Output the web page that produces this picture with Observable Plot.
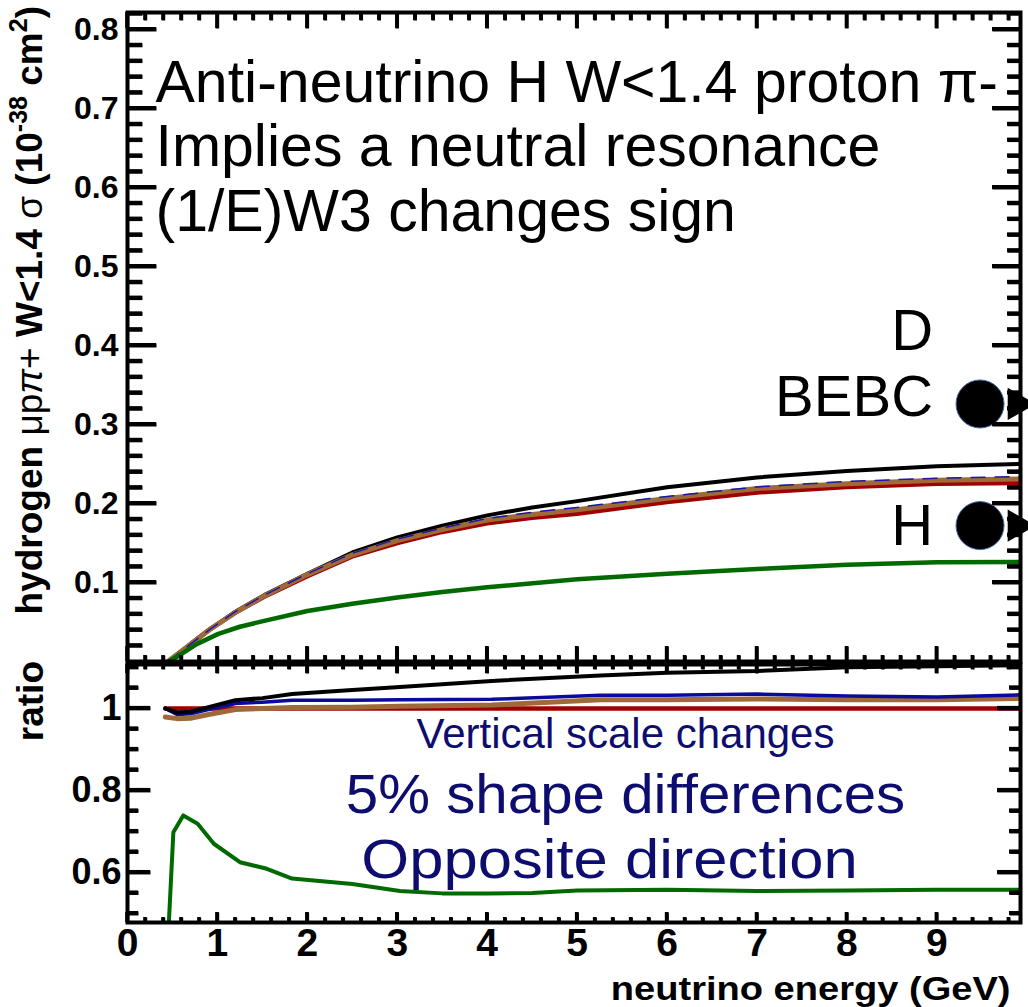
<!DOCTYPE html>
<html><head><meta charset="utf-8">
<script src="https://cdn.jsdelivr.net/npm/d3@7"></script>
<script src="https://cdn.jsdelivr.net/npm/@observablehq/plot@0.6"></script>
<style>
html,body{margin:0;padding:0;background:#fff;}
#wrap{position:relative;width:1028px;height:1007px;overflow:hidden;background:#fff;}
#wrap svg{position:absolute;left:0;overflow:visible;background:transparent;}
</style></head><body><div id="wrap"></div>
<script>
// ---------- data ----------
const energyTop = [0.45, 0.6, 0.77, 0.92, 1.2, 1.52, 2.0, 2.5, 3.0, 3.5, 4.0, 4.5, 5.0, 6.0, 7.0, 8.0, 9.0, 9.92];
const sigmaBlack = [0, 0.013, 0.028, 0.041, 0.063, 0.084, 0.111, 0.138, 0.157, 0.172, 0.185, 0.195, 0.203, 0.2205, 0.233, 0.241, 0.247, 0.250];
const sigmaRed   = [0, 0.013, 0.028, 0.041, 0.062, 0.082, 0.108, 0.133, 0.150, 0.164, 0.175, 0.182, 0.187, 0.202, 0.214, 0.221, 0.225, 0.226];
const sigmaBrown = [0, 0.013, 0.028, 0.041, 0.062, 0.083, 0.110, 0.135, 0.153, 0.167, 0.179, 0.186, 0.192, 0.2065, 0.219, 0.225, 0.2295, 0.231];
const sigmaBlue  = [0, 0.013, 0.028, 0.041, 0.063, 0.084, 0.111, 0.137, 0.155, 0.169, 0.181, 0.189, 0.195, 0.209, 0.221, 0.228, 0.232, 0.234];
const energyGreen = [0.46, 0.55, 0.77, 1.01, 1.25, 1.52, 2.0, 2.5, 3.0, 3.5, 4.0, 5.0, 6.0, 7.0, 8.0, 9.0, 9.92];
const sigmaGreen  = [0, 0.006, 0.022, 0.035, 0.044, 0.0515, 0.064, 0.073, 0.081, 0.088, 0.094, 0.104, 0.111, 0.117, 0.1225, 0.1255, 0.126];

const energyRatio = [0.42, 0.55, 0.7, 0.9, 1.2, 1.5, 1.83, 2.5, 3.03, 4.05, 5.26, 6.0, 7.0, 8.0, 9.0, 9.92];
const ratioBlack = [1.0, 0.99, 0.992, 1.003, 1.02, 1.025, 1.035, 1.045, 1.052, 1.067, 1.08, 1.087, 1.091, 1.1, 1.103, 1.105];
const ratioRed   = [1.0, 1.0, 1.0, 1.0, 1.0, 1.0, 1.0, 1.0, 1.0, 1.0, 1.0, 1.0, 1.0, 1.0, 1.0, 1.0];
const ratioBrown = [0.979, 0.975, 0.976, 0.985, 0.997, 1.0, 1.002, 1.003, 1.005, 1.008, 1.021, 1.021, 1.023, 1.021, 1.021, 1.024];
const ratioBlue  = [1.0, 0.985, 0.987, 0.997, 1.012, 1.015, 1.02, 1.02, 1.021, 1.022, 1.032, 1.032, 1.035, 1.03, 1.028, 1.033];
const energyRatioGreen = [0.46, 0.51, 0.62, 0.78, 0.96, 1.25, 1.55, 1.83, 2.5, 3.03, 3.5, 4.0, 4.5, 5.0, 6.0, 7.0, 8.0, 9.0, 9.92];
const ratioGreen = [0.478, 0.698, 0.739, 0.719, 0.67, 0.625, 0.609, 0.585, 0.572, 0.555, 0.549, 0.549, 0.55, 0.556, 0.558, 0.555, 0.556, 0.558, 0.558];

const bebcNames = ["BEBC", "H"];
const bebcEnergy = [9.48, 9.48];
const bebcSigma = [0.326, 0.172];

const xTicks = [0, 1, 2, 3, 4, 5, 6, 7, 8, 9];
const xTickLabels = ["0", "1", "2", "3", "4", "5", "6", "7", "8", "9"];
const yTopTicks = [0.1, 0.2, 0.3, 0.4, 0.5, 0.6, 0.7, 0.8];
const yTopTickLabels = ["0.1", "0.2", "0.3", "0.4", "0.5", "0.6", "0.7", "0.8"];
const yRatioTicks = [0.6, 0.8, 1];
const yRatioTickLabels = ["0.6", "0.8", "1"];

const titleLines = ["Anti-neutrino H W<1.4 proton π-", "Implies a neutral resonance", "(1/E)W3 changes sign"];
const notes = ["Vertical scale changes", "5% shape differences", "Opposite direction"];
const xTitle = "neutrino energy (GeV)";
const ratioTitle = "ratio";

// ---------- helpers ----------
const FONT = "'Liberation Sans', Arial, Helvetica, sans-serif";
const toRows = (xs, ys) => xs.map((x, i) => ({x, y: ys[i]}));
const W = 1028, FL = 127, FR = 1020;
const X_DOMAIN = [0, 9.93];

// a filled bar used as a tick glyph (pixel offsets relative to the tick's anchor point)
const bar = (x0, x1, y0, y1) => ({draw(ctx) { ctx.moveTo(x0, y0); ctx.lineTo(x1, y0); ctx.lineTo(x1, y1); ctx.lineTo(x0, y1); ctx.closePath(); }});

// ticks drawn inside the frame (ROOT style)
function edgeTicks(o) {
  const out = [];
  const [xa, xb] = X_DOMAIN, [ya, yb] = o.yDomain;
  const h = o.sw / 2;
  for (const [vals, len] of [[o.minor, o.minLen], [o.major, o.majLen]]) {
    if (o.axis === "y") {
      const left = o.side === "left";
      const sym = left ? bar(0, len, -h, h) : bar(-len, 0, -h, h);
      out.push(Plot.dot(vals, {x: () => (left ? xa : xb), y: v => v, symbol: sym, fill: "#000000", stroke: "none", r: 3}));
    } else {
      const bottom = o.side === "bottom";
      const sym = bottom ? bar(-h, h, -len, 0) : bar(-h, h, 0, len);
      out.push(Plot.dot(vals, {x: v => v, y: () => (bottom ? ya : yb), symbol: sym, fill: "#000000", stroke: "none", r: 3}));
    }
  }
  return out;
}

// the same ticks again as plain SVG lines placed with the plot's own scales
function svgTicks(plot, specs) {
  try {
    const sx = plot.scale("x"), sy = plot.scale("y");
    const [xl, xr] = sx.range, yrng = sy.range;
    const yb = Math.max(...yrng), yt = Math.min(...yrng);
    const g = d3.select(plot).append("g").attr("stroke", "#000000");
    for (const s of specs) {
      for (const [vals, len] of [[s.minor, s.minLen], [s.major, s.majLen]]) {
        for (const v of vals) {
          const ln = g.append("line").attr("stroke-width", s.sw);
          if (s.axis === "y") {
            const y = sy.apply(v);
            if (s.side === "left") ln.attr("x1", xl).attr("x2", xl + len);
            else ln.attr("x1", xr - len).attr("x2", xr);
            ln.attr("y1", y).attr("y2", y);
          } else {
            const x = sx.apply(v);
            if (s.side === "bottom") ln.attr("y1", yb).attr("y2", yb - len);
            else ln.attr("y1", yt).attr("y2", yt + len);
            ln.attr("x1", x).attr("x2", x);
          }
        }
      }
    }
  } catch (e) { /* keep the rest of the chart */ }
}

function stretch(svg, tag, sx, sy, anchor) {
  svg.querySelectorAll(`g[aria-description="${tag}"] text`).forEach(t => {
    const b = t.getBBox();
    const ox = anchor === "end" ? b.x + b.width : anchor === "start" ? b.x : b.x + b.width / 2;
    const oy = b.y + b.height / 2;
    const old = t.getAttribute("transform") || "";
    t.setAttribute("transform", `${old} translate(${ox},${oy}) scale(${sx},${sy}) translate(${-ox},${-oy})`);
  });
}

const xMinor = d3.range(0, 50).map(v => v / 5).filter(v => v <= 9.93 && Math.abs(v - Math.round(v)) > 1e-6);
const xMajor = xTicks;

// ---------- top panel ----------
const topH = 662, topMT = 12, topMB = 1;
const yTopDomain = [0, 0.8215];
const yTopMinor = d3.range(0, 42).map(v => v / 50).filter((v, i) => i % 5 !== 0);
const topSpecs = [
  {axis: "y", side: "left", minor: yTopMinor, major: yTopTicks, majLen: 29, minLen: 15, sw: 4, yDomain: yTopDomain},
  {axis: "y", side: "right", minor: yTopMinor, major: yTopTicks, majLen: 28, minLen: 13, sw: 4, yDomain: yTopDomain},
  {axis: "x", side: "bottom", minor: xMinor, major: xMajor, majLen: 15, minLen: 6, sw: 3.5, yDomain: yTopDomain},
  {axis: "x", side: "top", minor: xMinor, major: xMajor, majLen: 16, minLen: 8, sw: 3.5, yDomain: yTopDomain}
];
const bebcRows = toRows(bebcEnergy, bebcSigma);

const topPlot = Plot.plot({
  width: W, height: topH,
  marginLeft: FL, marginRight: W - FR, marginTop: topMT, marginBottom: topMB,
  style: {background: "transparent", fontFamily: FONT},
  x: {domain: X_DOMAIN, axis: null},
  y: {domain: yTopDomain, axis: null},
  marks: [
    Plot.line(toRows(energyTop, sigmaRed), {x: "x", y: "y", stroke: "#a00000", strokeWidth: 4.5}),
    Plot.line(toRows(energyTop, sigmaBlack), {x: "x", y: "y", stroke: "#000000", strokeWidth: 4}),
    Plot.line(toRows(energyTop, sigmaBrown), {x: "x", y: "y", stroke: "#9e6a3a", strokeWidth: 5}),
    Plot.line(toRows(energyTop, sigmaBlue), {x: "x", y: "y", stroke: "#1a1aa0", strokeWidth: 1.5, strokeDasharray: "14,10"}),
    Plot.line(toRows(energyGreen, sigmaGreen), {x: "x", y: "y", stroke: "#006a00", strokeWidth: 4.5}),
    Plot.frame({stroke: "black", strokeWidth: 4}),
    ...topSpecs.flatMap(edgeTicks),
    Plot.text(yTopTicks, {y: d => d, text: (d, i) => yTopTickLabels[i], frameAnchor: "left", textAnchor: "end", dx: -9, fontSize: 32, fontWeight: "bold", fill: "black"}),
    Plot.text([titleLines.join("\n")], {frameAnchor: "top-left", lineAnchor: "top", dx: 28, dy: 43, fontSize: 59, lineHeight: 1.1, fill: "black"}),
    Plot.dot(bebcRows, {x: "x", y: "y", symbol: "triangle", r: 12, rotate: 90, dx: 37, fill: "black"}),
    Plot.dot(bebcRows, {x: "x", y: "y", r: 24, fill: "black", stroke: "#3f6aa6", strokeWidth: 1}),
    Plot.text(bebcRows.slice(0, 1), {x: "x", y: "y", text: () => bebcNames[0], textAnchor: "end", dx: -47, dy: -7, fontSize: 58, fill: "black"}),
    Plot.text(bebcRows.slice(0, 1), {x: "x", y: "y", text: () => "D", textAnchor: "end", dx: -47, dy: -73, fontSize: 58, fill: "black"}),
    Plot.text(bebcRows.slice(1, 2), {x: "x", y: "y", text: () => bebcNames[1], textAnchor: "end", dx: -47, dy: 1, fontSize: 58, fill: "black"})
  ]
});
topPlot.style.top = "0px";

// ---------- bottom panel ----------
const botTop = 662, botH = 345, botMT = 2, botMB = 85;
const yRatioDomain = [0.478, 1.107];
const yRatioMinor = [0.5, 0.55, 0.65, 0.7, 0.75, 0.85, 0.9, 0.95, 1.05, 1.1];
const botSpecs = [
  {axis: "y", side: "left", minor: yRatioMinor, major: yRatioTicks, majLen: 23, minLen: 11, sw: 4, yDomain: yRatioDomain},
  {axis: "y", side: "right", minor: yRatioMinor, major: yRatioTicks, majLen: 23, minLen: 11, sw: 4, yDomain: yRatioDomain},
  {axis: "x", side: "bottom", minor: xMinor, major: xMajor, majLen: 10, minLen: 5, sw: 3.5, yDomain: yRatioDomain},
  {axis: "x", side: "top", minor: xMinor, major: xMajor, majLen: 9, minLen: 5, sw: 3.5, yDomain: yRatioDomain}
];

const botPlot = Plot.plot({
  width: W, height: botH,
  marginLeft: FL, marginRight: W - FR, marginTop: botMT, marginBottom: botMB,
  style: {background: "transparent", fontFamily: FONT},
  x: {domain: X_DOMAIN, axis: null},
  y: {domain: yRatioDomain, axis: null},
  marks: [
    Plot.line(toRows(energyRatio, ratioRed), {x: "x", y: "y", stroke: "#a00000", strokeWidth: 4.5, clip: true}),
    Plot.line(toRows(energyRatio, ratioBrown), {x: "x", y: "y", stroke: "#9e6a3a", strokeWidth: 5, clip: true}),
    Plot.line(toRows(energyRatio, ratioBlue), {x: "x", y: "y", stroke: "#0a0a9c", strokeWidth: 3.5, clip: true}),
    Plot.line(toRows(energyRatio, ratioBlack), {x: "x", y: "y", stroke: "#000000", strokeWidth: 4, clip: true}),
    Plot.line(toRows(energyRatioGreen, ratioGreen), {x: "x", y: "y", stroke: "#006a00", strokeWidth: 4, clip: true}),
    Plot.frame({stroke: "black", strokeWidth: 4}),
    ...botSpecs.flatMap(edgeTicks),
    Plot.text(yRatioTicks, {y: d => d, text: (d, i) => yRatioTickLabels[i], frameAnchor: "left", textAnchor: "end", dx: -6, fontSize: 36, fontWeight: "bold", fill: "black"}),
    Plot.text(xTicks, {x: d => d, text: (d, i) => xTickLabels[i], frameAnchor: "bottom", lineAnchor: "top", dy: 6, fontSize: 39, fontWeight: "bold", fill: "black"}),
    Plot.text([xTitle], {ariaDescription: "xtitle", frameAnchor: "bottom-right", textAnchor: "end", lineAnchor: "top", dx: -10, dy: 53, fontSize: 34, fontWeight: "bold", fill: "black"}),
    Plot.text([notes[0]], {frameAnchor: "top-left", lineAnchor: "top", textAnchor: "middle", dx: 498, dy: 54, fontSize: 42, fill: "#0d0d70"}),
    Plot.text([notes[1]], {ariaDescription: "note2", frameAnchor: "top-left", lineAnchor: "top", textAnchor: "middle", dx: 498, dy: 109, fontSize: 55, fill: "#0d0d70"}),
    Plot.text([notes[2]], {ariaDescription: "note3", frameAnchor: "top-left", lineAnchor: "top", textAnchor: "middle", dx: 482, dy: 174, fontSize: 55, fill: "#0d0d70"})
  ]
});
botPlot.style.top = botTop + "px";

const wrap = document.getElementById("wrap");
wrap.appendChild(topPlot);
wrap.appendChild(botPlot);

svgTicks(topPlot, topSpecs);
svgTicks(botPlot, botSpecs);

stretch(botPlot, "xtitle", 1.12, 1, "end");
stretch(botPlot, "note2", 1.06, 1, "middle");
stretch(botPlot, "note3", 1.12, 1, "middle");

// ---------- rotated axis titles ----------
const ts = d3.select(topPlot).append("text")
  .attr("transform", "translate(42,6) rotate(-90)")
  .attr("text-anchor", "end")
  .attr("font-family", FONT)
  .attr("font-size", 37)
  .attr("fill", "black");
ts.append("tspan").attr("font-weight", "bold").text("hydrogen ");
ts.append("tspan").text("μp");
ts.append("tspan").attr("font-style", "italic").text("π");
ts.append("tspan").text("+");
ts.append("tspan").attr("font-weight", "bold").text(" W<1.4 ");
ts.append("tspan").text("σ");
ts.append("tspan").attr("font-weight", "bold").text(" (10");
ts.append("tspan").attr("font-weight", "bold").attr("font-size", 25).attr("dy", -15).text("-38");
ts.append("tspan").attr("font-weight", "bold").attr("dy", 15).text(" cm");
ts.append("tspan").attr("font-weight", "bold").attr("font-size", 25).attr("dy", -15).text("2");
ts.append("tspan").attr("font-weight", "bold").attr("dy", 15).text(")");

d3.select(botPlot).append("text")
  .attr("transform", "translate(43,-1) rotate(-90)")
  .attr("text-anchor", "end")
  .attr("font-family", FONT)
  .attr("font-size", 37)
  .attr("font-weight", "bold")
  .attr("fill", "black")
  .text(ratioTitle);
</script></body></html>
